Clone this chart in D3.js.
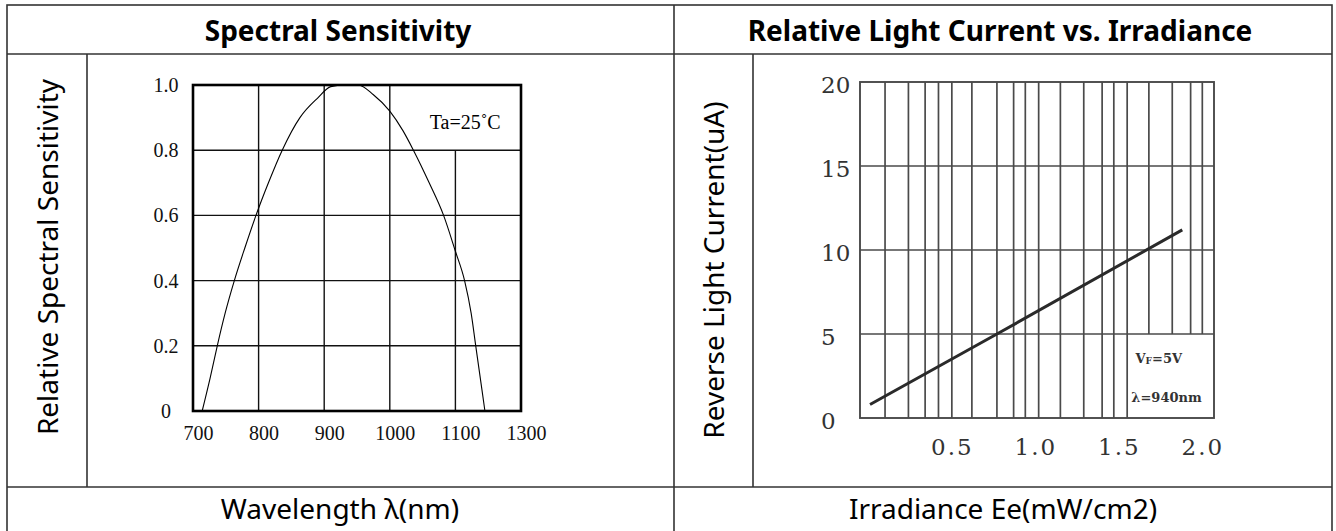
<!DOCTYPE html>
<html>
<head>
<meta charset="utf-8">
<script src="https://cdn.jsdelivr.net/npm/d3@7"></script>
<style>
  body { margin: 0; background: #fff; }
  svg { display: block; }
</style>
</head>
<body>
<svg id="chart" width="1336" height="531"></svg>
<script>
// spectral sensitivity curve
const wavelength = [714, 726, 737, 749, 763, 779, 796, 815, 836, 863, 890, 910, 930, 952, 975, 1000, 1020, 1036, 1060, 1082, 1100, 1114, 1124, 1131, 1138, 1145];
const sensitivity = [0, 0.1, 0.2, 0.3, 0.4, 0.5, 0.6, 0.7, 0.8, 0.9, 0.96, 0.995, 1.0, 1.0, 0.97, 0.92, 0.86, 0.8, 0.7, 0.6, 0.49, 0.4, 0.3, 0.2, 0.1, 0];
const wlTicks = [700, 800, 900, 1000, 1100, 1200];
const wlTickLabels = ["700", "800", "900", "1000", "1100", "1300"];
const sensTicks = [0, 0.2, 0.4, 0.6, 0.8, 1.0];
const sensTickLabels = ["0", "0.2", "0.4", "0.6", "0.8", "1.0"];

// light current vs irradiance
const irradiance = [0.01, 0.77, 1.88];
const lightCurrent = [0.8, 5.0, 11.2];
const irrGrid = [0.10, 0.24, 0.34, 0.42, 0.50, 0.62, 0.77, 0.87, 0.94, 1.02, 1.15, 1.29, 1.40, 1.47, 1.55, 1.68, 1.82, 1.93, 2.00];
const irrTicks = [0.5, 1.0, 1.5, 2.0];
const irrTickLabels = ["0.5", "1.0", "1.5", "2.0"];
const currentTicks = [0, 5, 10, 15, 20];

const svg = d3.select("#chart");
const sans = '"Noto Sans", "Open Sans", sans-serif';

// ---- table frame ----
const frame = svg.append("g").attr("stroke", "#333").attr("stroke-width", 1.6).attr("fill", "none");
frame.append("rect").attr("x", 7).attr("y", 5).attr("width", 1325).attr("height", 530);
[[7, 54, 1332, 54], [7, 487, 1332, 487], [674, 5, 674, 531], [87, 54, 87, 487], [753, 54, 753, 487]]
  .forEach(l => frame.append("line").attr("x1", l[0]).attr("y1", l[1]).attr("x2", l[2]).attr("y2", l[3]));

const text = (x, y, s, opts = {}) => svg.append("text")
  .attr("x", x).attr("y", y)
  .attr("text-anchor", "middle")
  .attr("dominant-baseline", "central")
  .attr("font-family", sans)
  .attr("font-size", opts.size || 22)
  .attr("font-weight", opts.weight || "normal")
  .attr("transform", opts.rotate ? `rotate(-90,${x},${y})` : null)
  .text(s);

text(338, 30, "Spectral Sensitivity", { size: 28, weight: "bold" });
text(1000, 30, "Relative Light Current vs. Irradiance", { size: 28, weight: "bold" });
text(47, 257, "Relative Spectral Sensitivity", { size: 28, rotate: true });
text(713, 270, "Reverse Light Current(uA)", { size: 28, rotate: true });
text(340, 508, "Wavelength \u03bb(nm)", { size: 28 });
text(1003, 508, "Irradiance Ee(mW/cm2)", { size: 28 });

// ---- left plot: spectral sensitivity ----
const x1 = d3.scaleLinear().domain([700, 1200]).range([193, 521]);
const y1 = d3.scaleLinear().domain([0, 1]).range([411, 85]);
const p1 = svg.append("g");

p1.append("g").selectAll("line").data(wlTicks.slice(1, -1)).join("line")
  .attr("x1", d => x1(d)).attr("x2", d => x1(d))
  .attr("y1", y1(0)).attr("y2", d => d === 1100 ? y1(0.8) : y1(1))
  .attr("stroke", "#111").attr("stroke-width", 1.4);
p1.append("g").selectAll("line").data(sensTicks.slice(1, -1)).join("line")
  .attr("x1", x1(700)).attr("x2", x1(1200))
  .attr("y1", d => y1(d)).attr("y2", d => y1(d))
  .attr("stroke", "#111").attr("stroke-width", 1.4);

const specLine = d3.line().x((d, i) => x1(wavelength[i])).y(d => y1(d)).curve(d3.curveMonotoneX);
p1.append("path").attr("d", specLine(sensitivity))
  .attr("fill", "none").attr("stroke", "#000").attr("stroke-width", 1.1);

p1.append("rect").attr("x", x1(700)).attr("y", y1(1)).attr("width", x1(1200) - x1(700)).attr("height", y1(0) - y1(1))
  .attr("fill", "none").attr("stroke", "#000").attr("stroke-width", 2.6);

p1.append("g").attr("transform", `translate(0,${y1(0)})`)
  .call(d3.axisBottom(x1).tickValues(wlTicks).tickFormat((d, i) => wlTickLabels[i]).tickSize(0).tickPadding(15))
  .call(g => g.select(".domain").remove())
  .call(g => g.selectAll("text").attr("dx", 5).attr("font-family", '"Liberation Serif", "Times New Roman", serif').attr("font-size", 20).attr("fill", "#111"));

p1.append("g").attr("transform", `translate(${x1(700)},0)`)
  .call(d3.axisLeft(y1).tickValues(sensTicks).tickFormat((d, i) => sensTickLabels[i]).tickSize(0))
  .call(g => g.select(".domain").remove())
  .call(g => g.selectAll("text").attr("x", -27).attr("text-anchor", "middle").attr("font-family", '"Liberation Serif", "Times New Roman", serif').attr("font-size", 20).attr("fill", "#111"));

p1.append("text").attr("x", x1(1115)).attr("y", y1(0.885))
  .attr("text-anchor", "middle").attr("dominant-baseline", "central")
  .attr("font-family", '"Liberation Serif", "Times New Roman", serif').attr("font-size", 20)
  .text("Ta=25\u02daC");

// ---- right plot: light current vs irradiance ----
const x2 = d3.scaleLinear().domain([-0.05, 2.07]).range([860, 1214]);
const y2 = d3.scaleLinear().domain([0, 20]).range([418, 82]);
const p2 = svg.append("g");
const gridColor = "#4a4a4a";

p2.append("g").selectAll("line").data(irrGrid).join("line")
  .attr("x1", d => x2(d)).attr("x2", d => x2(d))
  .attr("y1", d => d > 1.55 ? y2(5) : y2(0)).attr("y2", y2(20))
  .attr("stroke", gridColor).attr("stroke-width", 1.7);
p2.append("g").selectAll("line").data(currentTicks.slice(1, -1)).join("line")
  .attr("x1", x2(-0.05)).attr("x2", x2(2.07))
  .attr("y1", d => y2(d)).attr("y2", d => y2(d))
  .attr("stroke", gridColor).attr("stroke-width", 1.7);
p2.append("rect").attr("x", x2(-0.05)).attr("y", y2(20)).attr("width", x2(2.07) - x2(-0.05)).attr("height", y2(0) - y2(20))
  .attr("fill", "none").attr("stroke", gridColor).attr("stroke-width", 1.9);

const irrLine = d3.line().x((d, i) => x2(irradiance[i])).y(d => y2(d));
p2.append("path").attr("d", irrLine(lightCurrent))
  .attr("fill", "none").attr("stroke", "#2a2a2a").attr("stroke-width", 3);

const serif2 = '"DejaVu Serif", serif';
p2.append("g").attr("transform", `translate(0,${y2(0)})`)
  .call(d3.axisBottom(x2).tickValues(irrTicks).tickFormat((d, i) => irrTickLabels[i]).tickSize(0).tickPadding(21))
  .call(g => g.select(".domain").remove())
  .call(g => g.selectAll("text").attr("font-family", serif2).attr("font-size", 23).attr("letter-spacing", 2).attr("fill", "#333"));

p2.append("g").attr("transform", `translate(${x2(-0.05)},0)`)
  .call(d3.axisLeft(y2).tickValues(currentTicks).tickSize(0))
  .call(g => g.select(".domain").remove())
  .call(g => g.selectAll("text").attr("x", -39).attr("dy", "0.45em").attr("text-anchor", "start").attr("font-family", serif2).attr("font-size", 23).attr("fill", "#333"));

const note = p2.append("g").attr("font-family", serif2).attr("font-weight", "bold").attr("font-size", 13).attr("fill", "#333");
const vf = note.append("text").attr("x", x2(1.6)).attr("y", y2(3.6)).attr("dominant-baseline", "central");
vf.append("tspan").text("V");
vf.append("tspan").attr("font-size", 9).attr("dy", 3).text("F");
vf.append("tspan").attr("dy", -3).text("=5V");
note.append("text").attr("x", x2(1.575)).attr("y", y2(1.25)).attr("dominant-baseline", "central").text("\u03bb=940nm");
</script>
</body>
</html>
